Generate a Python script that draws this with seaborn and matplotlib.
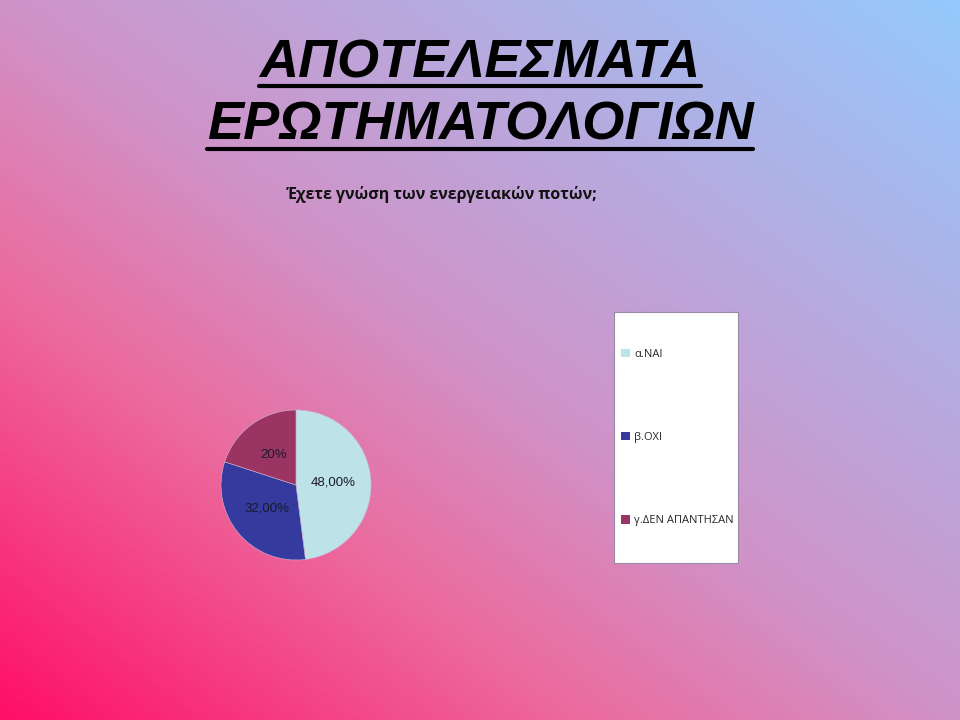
import numpy as np
import seaborn as sns
import matplotlib.pyplot as plt
from matplotlib.colors import LinearSegmentedColormap
from matplotlib.lines import Line2D
from matplotlib.patches import Patch

# data
categories = ['α.ΝΑΙ', 'β.ΟΧΙ', 'γ.ΔΕΝ ΑΠΑΝΤΗΣΑΝ']
values = [48, 32, 20]
pct_labels = ['48,00%', '32,00%', '20%']
title_lines = ['ΑΠΟΤΕΛΕΣΜΑΤΑ', 'ΕΡΩΤΗΜΑΤΟΛΟΓΙΩΝ']
subtitle = 'Έχετε γνώση των ενεργειακών ποτών;'

sns.set_theme(style='white')
plt.rcParams['font.family'] = ['Liberation Sans', 'DejaVu Sans']

colors = sns.color_palette(['#bde2e8', '#343a9e', '#9b3463'])

fig = plt.figure(figsize=(9.6, 7.2), dpi=100)

# diagonal gradient background
bg = fig.add_axes([0, 0, 1, 1])
bg.set_axis_off()
yy, xx = np.mgrid[0:1:360j, 0:1:480j]
t = (xx + (1 - yy)) / 2  # 0 at bottom-left, 1 at top-right (origin upper)
cmap = LinearSegmentedColormap.from_list(
    'bg', [(0, '#ff0f66'), (0.3, '#ec6a9e'), (0.5, '#d093c8'), (1, '#95c9fd')])
bg.imshow(t, cmap=cmap, aspect='auto', extent=[0, 1, 0, 1], origin='upper')
bg.set_xlim(0, 1)
bg.set_ylim(0, 1)

# title
t1 = fig.text(0.5, 1 - 77 / 720, title_lines[0], ha='center', va='baseline',
              fontsize=39, fontweight='bold', fontstyle='italic', color='black')
t2 = fig.text(0.5, 1 - 140 / 720, title_lines[1], ha='center', va='baseline',
              fontsize=39, fontweight='bold', fontstyle='italic', color='black')
fig.text(287 / 960, 1 - 199 / 720, subtitle, ha='left', va='baseline',
         fontsize=11.5, fontweight='bold', color='#111111',
         family=['Open Sans', 'DejaVu Sans'])

# pie
ax = fig.add_axes([(296 - 75) / 960, 1 - (485 + 75) / 720, 150 / 960, 150 / 720])
lab_iter = iter(pct_labels)
wedges, _, autotexts = ax.pie(values, colors=colors, startangle=90, counterclock=False,
                              autopct=lambda p: next(lab_iter), pctdistance=0.5,
                              wedgeprops=dict(linewidth=0.4, edgecolor='#cdb8d8'),
                              textprops=dict(fontsize=9.5, color='#1a1a2a'))
ax.set_xlim(-1.0, 1.0)
ax.set_ylim(-1.0, 1.0)
ax.set_aspect('equal')

# legend box
lx0, ly0, lx1, ly1 = 614, 312, 738, 563
lax = fig.add_axes([lx0 / 960, 1 - ly1 / 720, (lx1 - lx0) / 960, (ly1 - ly0) / 720])
lax.set_xticks([])
lax.set_yticks([])
lax.set_facecolor('white')
for s in lax.spines.values():
    s.set_color('#9a8aa8')
    s.set_linewidth(0.8)
handles = [Patch(facecolor=c, edgecolor='none') for c in colors]
lax.legend(handles, categories, loc='center left', frameon=False,
           labelspacing=6.5, handlelength=0.8, handleheight=0.8,
           handletextpad=0.4, borderaxespad=0.2,
           prop=dict(family=['Open Sans', 'DejaVu Sans'], size=8))

# underline title lines
fig.canvas.draw()
renderer = fig.canvas.get_renderer()
for txt, ypix in ((t1, 85.5), (t2, 149)):
    bb = txt.get_window_extent(renderer)
    y = 1 - ypix / 720
    fig.add_artist(Line2D([bb.x0 / 960, bb.x1 / 960], [y, y], color='black',
                          linewidth=3, transform=fig.transFigure))

fig.savefig('out.png', dpi=100)
